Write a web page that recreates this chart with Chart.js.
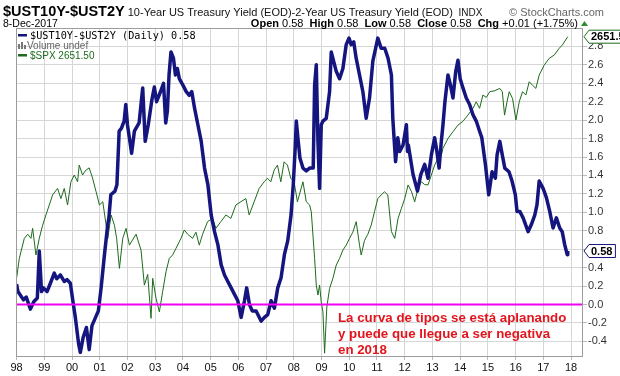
<!DOCTYPE html>
<html>
<head>
<meta charset="utf-8">
<script src="https://cdn.jsdelivr.net/npm/chart.js@4.4.1/dist/chart.umd.min.js"></script>
<style>
  html, body { margin: 0; padding: 0; background: #fff; }
  #wrap { position: relative; width: 620px; height: 376px; }
</style>
</head>
<body>
<div id="wrap"><canvas id="chart" width="620" height="376"></canvas></div>
<script>
// 10Y-2Y spread (decimal year, %)
const spreadDates = [
  1998.00,1998.05,1998.25,1998.35,1998.50,1998.62,1998.75,1998.82,1998.90,1998.97,
  1999.10,1999.22,1999.36,1999.45,1999.58,1999.72,1999.82,1999.94,2000.05,2000.12,
  2000.24,2000.30,2000.40,2000.52,2000.62,2000.72,2000.85,2000.95,2001.05,2001.17,
  2001.29,2001.33,2001.40,2001.55,2001.62,2001.70,2001.78,2001.88,2001.94,2002.00,
  2002.15,2002.25,2002.42,2002.55,2002.64,2002.75,2002.88,2002.97,2003.05,2003.18,
  2003.30,2003.38,2003.44,2003.50,2003.57,2003.66,2003.73,2003.80,2003.87,2004.00,
  2004.12,2004.23,2004.32,2004.42,2004.54,2004.66,2004.78,2004.90,2005.02,2005.14,
  2005.26,2005.38,2005.50,2005.62,2005.74,2005.86,2005.98,2006.10,2006.22,2006.30,
  2006.40,2006.50,2006.64,2006.82,2006.94,2007.06,2007.18,2007.30,2007.42,2007.54,
  2007.66,2007.78,2007.90,2007.98,2008.05,2008.09,2008.15,2008.22,2008.33,2008.45,
  2008.57,2008.70,2008.75,2008.81,2008.87,2008.93,2008.99,2009.05,2009.17,2009.29,
  2009.35,2009.41,2009.53,2009.65,2009.77,2009.89,2009.99,2010.07,2010.16,2010.25,
  2010.37,2010.49,2010.61,2010.73,2010.85,2010.95,2011.03,2011.15,2011.28,2011.40,
  2011.52,2011.57,2011.67,2011.75,2011.82,2011.94,2012.06,2012.10,2012.13,2012.30,
  2012.40,2012.46,2012.58,2012.72,2012.84,2012.96,2013.08,2013.16,2013.24,2013.32,
  2013.38,2013.45,2013.56,2013.65,2013.74,2013.84,2013.92,2014.00,2014.10,2014.22,
  2014.34,2014.46,2014.58,2014.70,2014.78,2014.91,2015.03,2015.15,2015.27,2015.33,
  2015.43,2015.52,2015.61,2015.76,2015.87,2015.99,2016.05,2016.15,2016.27,2016.45,
  2016.57,2016.69,2016.77,2016.85,2016.99,2017.11,2017.23,2017.35,2017.47,2017.59,
  2017.68,2017.77,2017.86,2017.88
];
const spreadValues = [
  0.22,0.14,0.05,0.08,-0.05,0.03,0.07,0.58,0.14,0.18,
  0.14,0.23,0.34,0.28,0.32,0.25,0.27,0.23,0.00,-0.14,
  -0.43,-0.52,-0.36,-0.25,-0.49,-0.23,-0.14,-0.07,0.18,0.54,
  0.87,0.94,1.19,1.23,1.30,1.88,1.91,1.99,2.17,1.95,
  1.64,1.88,1.97,2.35,1.77,1.95,2.22,2.36,2.20,2.30,
  2.40,1.97,2.10,2.49,2.74,2.67,2.49,2.56,2.45,2.38,
  2.31,2.27,2.31,2.13,1.95,1.77,1.48,1.30,0.97,0.79,
  0.65,0.43,0.32,0.25,0.18,0.11,0.04,-0.14,0.04,0.18,
  0.00,-0.07,-0.07,-0.18,-0.14,-0.11,0.04,-0.04,0.18,0.29,
  0.54,0.69,0.97,1.30,1.70,1.99,1.80,1.59,1.48,1.45,
  1.48,1.48,2.38,2.60,1.77,1.26,1.95,1.99,2.02,2.31,
  2.74,2.67,2.53,2.45,2.56,2.82,2.89,2.82,2.85,2.67,
  2.49,2.31,2.02,2.24,2.64,2.78,2.89,2.78,2.78,2.67,
  2.49,2.02,1.55,1.81,1.66,1.73,1.95,1.66,1.73,1.41,
  1.30,1.23,1.41,1.52,1.37,1.62,1.81,1.66,1.48,1.77,
  1.95,2.20,2.49,2.38,2.24,2.53,2.65,2.45,2.35,2.24,
  2.17,2.06,1.99,1.88,1.81,1.52,1.19,1.44,1.37,1.62,
  1.77,1.62,1.48,1.44,1.34,1.19,1.01,1.01,0.94,0.79,
  0.87,0.97,1.08,1.34,1.26,1.16,1.01,0.83,0.94,0.83,
  0.79,0.65,0.54,0.58
];

// S&P 500 overlay (decimal year, index level)
const spxDates = [
  1998.00,1998.10,1998.28,1998.40,1998.52,1998.58,1998.70,1998.82,1998.94,1999.06,
  1999.18,1999.30,1999.48,1999.60,1999.72,1999.84,1999.96,2000.08,2000.20,2000.26,
  2000.38,2000.50,2000.62,2000.74,2000.87,2000.99,2001.11,2001.23,2001.29,2001.41,
  2001.53,2001.61,2001.71,2001.83,2001.95,2002.07,2002.31,2002.49,2002.61,2002.73,
  2002.85,2002.91,2003.03,2003.15,2003.27,2003.39,2003.51,2003.63,2003.75,2003.93,
  2004.05,2004.17,2004.35,2004.47,2004.59,2004.71,2004.89,2005.07,2005.19,2005.37,
  2005.55,2005.73,2005.91,2006.09,2006.27,2006.39,2006.57,2006.75,2006.93,2007.05,
  2007.17,2007.29,2007.41,2007.53,2007.65,2007.77,2007.89,2008.01,2008.13,2008.33,
  2008.45,2008.57,2008.63,2008.75,2008.81,2008.87,2008.93,2008.99,2009.05,2009.11,
  2009.19,2009.29,2009.41,2009.53,2009.65,2009.77,2009.89,2010.01,2010.13,2010.25,
  2010.37,2010.43,2010.55,2010.67,2010.79,2010.91,2011.03,2011.15,2011.27,2011.39,
  2011.52,2011.64,2011.76,2011.88,2012.00,2012.12,2012.24,2012.36,2012.48,2012.60,
  2012.72,2012.84,2012.96,2013.08,2013.20,2013.32,2013.38,2013.56,2013.74,2013.92,
  2014.10,2014.28,2014.46,2014.58,2014.70,2014.82,2014.94,2015.07,2015.25,2015.43,
  2015.52,2015.60,2015.69,2015.77,2015.89,2016.01,2016.13,2016.25,2016.37,2016.49,
  2016.61,2016.73,2016.85,2017.03,2017.21,2017.39,2017.57,2017.69,2017.88
];
const spxValues = [
  934,1018,1110,1130,1110,1159,1033,1110,1175,1228,
  1282,1339,1377,1318,1377,1282,1417,1459,1417,1523,
  1459,1490,1505,1440,1357,1282,1300,1175,1110,1228,
  1175,1110,975,1110,1159,1078,1130,1055,907,950,
  786,934,857,808,882,961,1018,1033,1063,1110,
  1151,1130,1110,1140,1078,1130,1193,1210,1159,1193,
  1228,1210,1282,1300,1318,1228,1300,1377,1417,1439,
  1417,1490,1523,1417,1545,1523,1439,1417,1300,1417,
  1300,1282,1245,1018,907,869,907,843,808,676,
  825,894,934,989,1018,1055,1078,1110,1140,1193,
  1078,1033,1100,1130,1175,1245,1318,1339,1357,1339,
  1143,1110,1210,1263,1318,1398,1360,1300,1377,1417,
  1400,1398,1459,1523,1568,1590,1638,1709,1759,1810,
  1840,1890,1946,2002,1946,2061,2040,2091,2100,2121,
  2091,1890,2002,2091,2030,1850,2002,2091,2061,2183,
  2150,2121,2247,2345,2415,2449,2521,2560,2651.5
];

const yearTicks = [1998,1999,2000,2001,2002,2003,2004,2005,2006,2007,2008,2009,2010,2011,2012,2013,2014,2015,2016,2017,2018];
const yTicks = [-0.4,-0.2,0.0,0.2,0.4,0.6,0.8,1.0,1.2,1.4,1.6,1.8,2.0,2.2,2.4,2.6,2.8];

const SANS = 'Arial, "Liberation Sans", sans-serif';

// 画一串不同字体的文字
function drawRuns(ctx, items, x, y, alignRight) {
    let w = 0;
    items.forEach(it => { ctx.font = it[1]; w += ctx.measureText(it[0]).width; });
    let cx = alignRight ? x - w : x;
    items.forEach(it => {
        ctx.font = it[1];
        ctx.fillStyle = it[2];
        ctx.fillText(it[0], cx, y);
        cx += ctx.measureText(it[0]).width;
    });
    return cx;
}

// 右侧数值标签
function drawTag(ctx, x, y, text, color) {
    ctx.font = 'bold 11px ' + SANS;
    const w = ctx.measureText(text).width + 5;
    ctx.beginPath();
    ctx.moveTo(x, y);
    ctx.lineTo(x + 5, y - 6.5);
    ctx.lineTo(x + 5 + w, y - 6.5);
    ctx.lineTo(x + 5 + w, y + 6.5);
    ctx.lineTo(x + 5, y + 6.5);
    ctx.closePath();
    ctx.fillStyle = '#fff';
    ctx.fill();
    ctx.strokeStyle = color;
    ctx.lineWidth = 1;
    ctx.stroke();
    ctx.fillStyle = '#000';
    ctx.textBaseline = 'middle';
    ctx.fillText(text, x + 7, y + 0.5);
    ctx.textBaseline = 'alphabetic';
}

const overlay = {
    id: 'overlay',
    beforeDraw(chart) {
        const ctx = chart.ctx;
        ctx.save();
        ctx.fillStyle = '#fff';
        ctx.fillRect(0, 0, chart.width, chart.height);
        ctx.restore();
    },
    afterDatasetsDraw(chart) {
        const ctx = chart.ctx;
        const a = chart.chartArea;
        const y0 = chart.scales.y.getPixelForValue(0);
        ctx.save();
        ctx.strokeStyle = '#f000f0';
        ctx.lineWidth = 2;
        ctx.beginPath();
        ctx.moveTo(a.left, y0);
        ctx.lineTo(a.right, y0);
        ctx.stroke();
        ctx.restore();
    },
    afterDraw(chart) {
        const ctx = chart.ctx;
        const a = chart.chartArea;
        ctx.save();

        // 边框
        ctx.strokeStyle = '#9c9c9c';
        ctx.lineWidth = 1;
        ctx.strokeRect(a.left + 0.5, a.top + 0.5, a.right - a.left - 1, a.bottom - a.top - 1);

        // 标题
        drawRuns(ctx, [
            ['$UST10Y-$UST2Y', 'bold 14.5px ' + SANS, '#000'],
            [' 10-Year US Treasury Yield (EOD)-2-Year US Treasury Yield (EOD)', '11px ' + SANS, '#111'],
            ['  INDX', '10px ' + SANS, '#111']
        ], 3, 16, false);
        drawRuns(ctx, [['\u00A9 StockCharts.com', '11px ' + SANS, '#666']], 604, 16, true);

        drawRuns(ctx, [['8-Dec-2017', '10.5px ' + SANS, '#000']], 3, 27, false);
        const b = 'bold 11px ' + SANS, n = '11px ' + SANS;
        const endX = drawRuns(ctx, [
            ['Open', b, '#000'], [' 0.58  ', n, '#000'],
            ['High', b, '#000'], [' 0.58  ', n, '#000'],
            ['Low', b, '#000'], [' 0.58  ', n, '#000'],
            ['Close', b, '#000'], [' 0.58  ', n, '#000'],
            ['Chg', b, '#000'], [' +0.01 (+1.75%) ', n, '#000']
        ], 581, 27, true);
        ctx.fillStyle = '#2e8b2e';
        ctx.beginPath();
        ctx.moveTo(endX, 26);
        ctx.lineTo(endX + 7, 26);
        ctx.lineTo(endX + 3.5, 21);
        ctx.closePath();
        ctx.fill();

        // 图例
        ctx.fillStyle = '#15157f';
        ctx.fillRect(18, 34, 9, 2.5);
        drawRuns(ctx, [['$UST10Y-$UST2Y (Daily) 0.58', '10.2px "DejaVu Sans Mono", monospace', '#000']], 30, 39, false);
        ctx.fillStyle = '#777';
        ctx.fillRect(18, 44, 2, 5);
        ctx.fillRect(21, 42, 2, 7);
        ctx.fillRect(24, 45, 2, 4);
        drawRuns(ctx, [['Volume undef', '10px ' + SANS, '#666']], 27, 49, false);
        ctx.fillStyle = '#1d6b1d';
        ctx.fillRect(18, 54, 9, 2.5);
        drawRuns(ctx, [['$SPX 2651.50', '10px ' + SANS, '#1d6b1d']], 30, 59, false);

        // 右侧标签
        const lastSpx = spxValues[spxValues.length - 1];
        const lastSpread = spreadValues[spreadValues.length - 1];
        drawTag(ctx, a.right + 1, chart.scales.ySpx.getPixelForValue(lastSpx), '2651.50', '#1d6b1d');
        drawTag(ctx, a.right + 1, chart.scales.y.getPixelForValue(lastSpread), lastSpread.toFixed(2), '#15157f');

        // 注释
        ctx.font = 'bold 13.3px ' + SANS;
        ctx.fillStyle = '#e3141c';
        ctx.fillText('La curva de tipos se está aplanando', 338, 322);
        ctx.fillText('y puede que llegue a ser negativa', 338, 338);
        ctx.fillText('en 2018', 338, 354);

        ctx.restore();
    }
};

const ctx = document.getElementById('chart').getContext('2d');
new Chart(ctx, {
    type: 'line',
    data: {
        datasets: [{
            label: '$UST10Y-$UST2Y',
            data: spreadDates.map((d, i) => ({ x: d, y: spreadValues[i] })),
            yAxisID: 'y',
            borderColor: '#15157f',
            borderWidth: 3.5,
            borderJoinStyle: 'round',
            pointRadius: 0,
            tension: 0,
            order: 0
        }, {
            label: '$SPX',
            data: spxDates.map((d, i) => ({ x: d, y: spxValues[i] })),
            yAxisID: 'ySpx',
            borderColor: '#1d6b1d',
            borderWidth: 1,
            pointRadius: 0,
            tension: 0,
            order: 1
        }]
    },
    options: {
        responsive: false,
        animation: false,
        devicePixelRatio: 1,
        layout: { padding: { left: 16, top: 28, right: 0, bottom: 0 } },
        plugins: {
            legend: { display: false },
            tooltip: { enabled: false }
        },
        scales: {
            x: {
                type: 'linear',
                min: 1997.98,
                max: 2018.43,
                afterBuildTicks: s => { s.ticks = yearTicks.map(v => ({ value: v })); },
                afterFit: s => { s.height = 19; },
                border: { display: false },
                grid: { color: '#d6d6d6', tickColor: '#bbb', tickLength: 3 },
                ticks: {
                    autoSkip: false,
                    maxRotation: 0,
                    padding: 1,
                    color: '#111',
                    font: { family: SANS, size: 11 },
                    callback: v => String(v).slice(2)
                }
            },
            y: {
                position: 'right',
                min: -0.57,
                max: 3.0,
                afterBuildTicks: s => { s.ticks = yTicks.map(v => ({ value: v })); },
                afterFit: s => { s.width = 37; },
                border: { display: false },
                grid: { color: '#d6d6d6', tickColor: '#bbb', tickLength: 4 },
                ticks: {
                    padding: 1,
                    color: '#333',
                    font: { family: SANS, size: 11 },
                    callback: v => v.toFixed(1)
                }
            },
            ySpx: {
                type: 'logarithmic',
                display: false,
                min: 665,
                max: 2753
            }
        }
    },
    plugins: [overlay]
});
</script>
</body>
</html>
